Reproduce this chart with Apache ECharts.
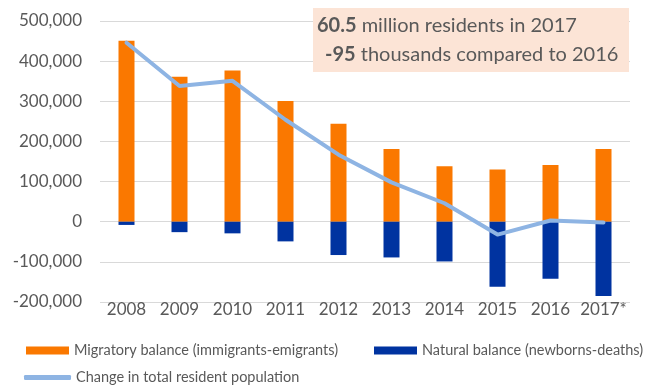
<!DOCTYPE html>
<html><head><meta charset="utf-8">
<script src="https://cdn.jsdelivr.net/npm/echarts@6/dist/echarts.min.js"></script>
<style>html,body{margin:0;padding:0;background:#fff}#c{width:647px;height:387px}</style>
</head><body><div id="c"></div>
<script>
const categories = ['2008','2009','2010','2011','2012','2013','2014','2015','2016','2017*'];
const migratory = [451000, 361000, 377000, 301000, 244000, 181000, 138000, 130000, 141000, 181000];
const natural = [-8000, -26000, -29000, -49000, -83000, -89000, -99000, -162000, -142000, -185000];
const totalChange = [446000, 338000, 351000, 254000, 167000, 98000, 46000, -32000, 3000, -2000];
const yTicks = {min: -200000, max: 500000, interval: 100000};
const names = ['Migratory balance (immigrants-emigrants)', 'Natural balance (newborns-deaths)', 'Change in total resident population'];

const FONT = 'Lato, "Open Sans", sans-serif';
const GREY = '#595959';
const chart = echarts.init(document.getElementById('c'), null, {renderer: 'canvas'});
const legendText = {color: GREY, fontSize: 14.5, fontFamily: FONT};
chart.setOption({
  animation: false,
  textStyle: {fontFamily: FONT},
  grid: {left: 100, right: 17, top: 21, bottom: 85, containLabel: false},
  xAxis: {
    type: 'category', data: categories,
    axisLine: {show: false, onZero: false}, axisTick: {show: false},
    axisLabel: {color: GREY, fontSize: 17, fontFamily: FONT, margin: -1, interval: 0}
  },
  yAxis: {
    type: 'value', min: yTicks.min, max: yTicks.max, interval: yTicks.interval,
    axisLine: {show: false}, axisTick: {show: false},
    splitLine: {lineStyle: {color: '#D9D9D9', width: 1}},
    axisLabel: {color: GREY, fontSize: 17, fontFamily: FONT, margin: 18,
      formatter: v => v.toLocaleString('en-US')}
  },
  legend: [
    {left: 26, top: 343, padding: 0, itemWidth: 43, itemHeight: 8, itemGap: 0, textStyle: legendText,
     data: [{name: names[0], icon: 'rect'}]},
    {left: 374, top: 343, padding: 0, itemWidth: 43, itemHeight: 8, itemGap: 0, textStyle: legendText,
     data: [{name: names[1], icon: 'rect'}]},
    {left: 24, top: 370, padding: 0, itemWidth: 47, itemHeight: 5, itemGap: 0, textStyle: legendText,
     data: [{name: names[2], icon: 'roundRect'}]}
  ],
  series: [
    {name: names[0], type: 'bar', stack: 'bal', data: migratory, barWidth: 16,
     itemStyle: {color: '#FA7800'}},
    {name: names[1], type: 'bar', stack: 'bal', data: natural, barWidth: 16,
     itemStyle: {color: '#0033A0'}},
    {name: names[2], type: 'line', data: totalChange, symbol: 'none', color: '#8EB4E3',
     lineStyle: {color: '#8EB4E3', width: 4, cap: 'round', join: 'round'}, z: 5}
  ],
  graphic: [
    {type: 'rect', left: 313, top: 8, shape: {width: 316, height: 64},
     style: {fill: '#FCE4D6'}, z: 10},
    {type: 'text', left: 317, top: 16, z: 11,
     style: {text: '{b|60.5} million residents in 2017', fill: GREY, font: '20px ' + FONT,
       rich: {b: {fontWeight: 'bold', fontSize: 20, fill: GREY, fontFamily: FONT}}}},
    {type: 'text', left: 325, top: 45, z: 11,
     style: {text: '{b|-95} thousands compared to 2016', fill: GREY, font: '20px ' + FONT,
       rich: {b: {fontWeight: 'bold', fontSize: 20, fill: GREY, fontFamily: FONT}}}}
  ]
});
</script></body></html>
